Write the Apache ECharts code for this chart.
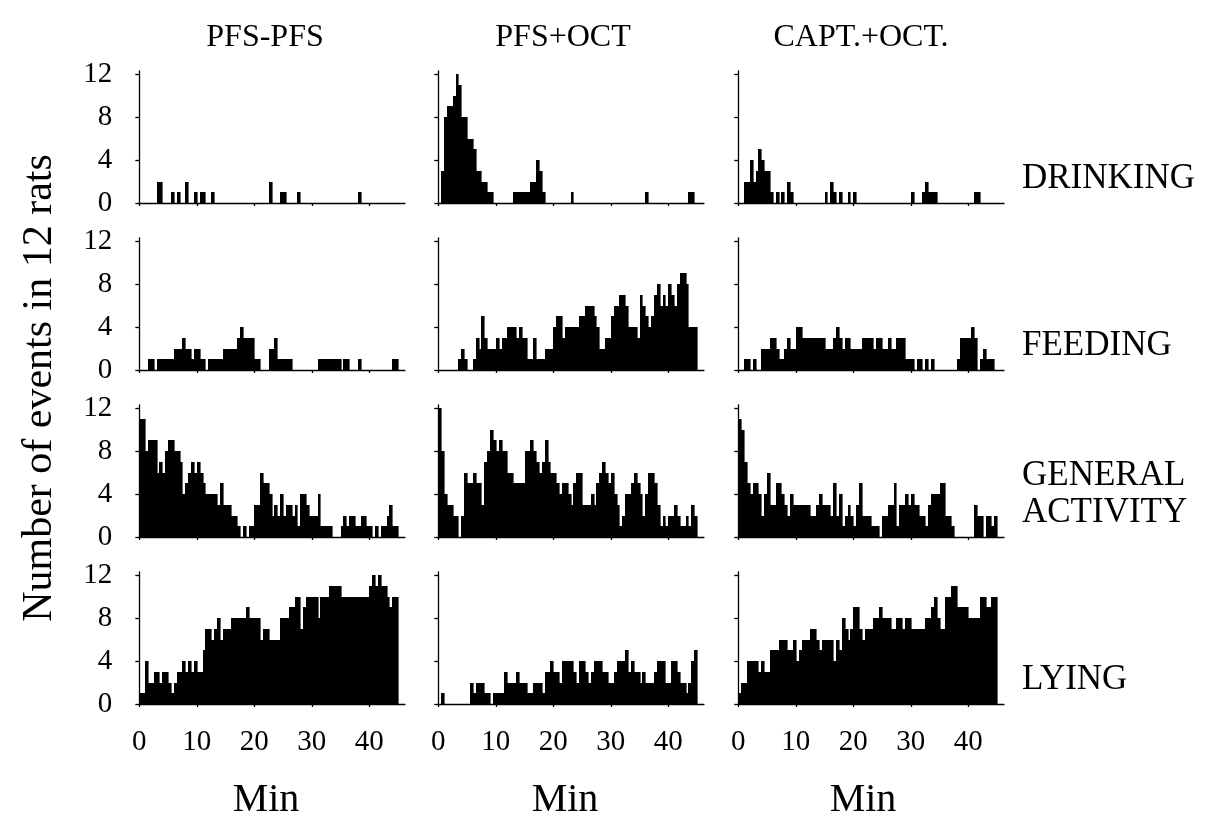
<!DOCTYPE html>
<html><head><meta charset="utf-8">
<script src="https://cdn.jsdelivr.net/npm/echarts/dist/echarts.min.js"></script>
<style>html,body{margin:0;padding:0;background:#fff}#c{width:1230px;height:828px}</style>
</head><body><div id="c"></div><script>
// ---------- DATA ----------
const binMinutes = 0.5;           // each bar = 30 s observation bin, 90 bins over 45 min
const conditions = ['PFS-PFS', 'PFS+OCT', 'CAPT.+OCT.'];
const behaviours = ['DRINKING', 'FEEDING', 'GENERAL\nACTIVITY', 'LYING'];
const xTickValues = [0, 10, 20, 30, 40];
const yTickValues = [0, 4, 8, 12];
const xAxisTitle = 'Min';
const yAxisTitle = 'Number of events in 12 rats';

const drinkingPFS = [0,0,0,0,0,0,2,2,0,0, 0,1,0,1,0,0,2,0,0,1, 0,1,1,0,0,1,0,0,0,0, 0,0,0,0,0,0,0,0,0,0, 0,0,0,0,0,2,0,0,0,1, 1,0,0,0,0,1,0,0,0,0, 0,0,0,0,0,0,0,0,0,0, 0,0,0,0,0,0,1,0,0,0, 0,0,0,0,0,0,0,0,0,0];
const drinkingOCT = [0,3,8,9,9,10,12,11,8,8, 6,6,5,3,3,2,2,1,1,0, 0,0,0,0,0,0,1,1,1,1, 1,1,2,2,4,3,1,0,0,0, 0,0,0,0,0,0,1,0,0,0, 0,0,0,0,0,0,0,0,0,0, 0,0,0,0,0,0,0,0,0,0, 0,0,1,0,0,0,0,0,0,0, 0,0,0,0,0,0,0,1,1,0];
const drinkingCAPT = [0,0,2,2,4,2,3,5,4,3, 3,1,0,1,0,1,0,2,1,0, 0,0,0,0,0,0,0,0,0,0, 1,0,2,1,0,1,0,0,1,0, 1,0,0,0,0,0,0,0,0,0, 0,0,0,0,0,0,0,0,0,0, 1,0,0,0,1,2,1,1,1,0, 0,0,0,0,0,0,0,0,0,0, 0,0,1,1,0,0,0,0,0,0];

const feedingPFS = [0,0,0,1,1,0,1,1,1,1, 1,1,2,2,2,3,2,2,1,2, 2,1,1,0,1,1,1,1,1,2, 2,2,2,2,3,4,3,3,3,3, 1,1,0,0,0,2,2,3,1,1, 1,1,1,0,0,0,0,0,0,0, 0,0,1,1,1,1,1,1,1,1, 0,1,1,0,0,0,1,0,0,0, 0,0,0,0,0,0,0,0,1,1];
const feedingOCT = [0,0,0,0,0,0,0,1,2,1, 0,0,1,3,2,5,3,2,2,2, 3,2,3,3,4,4,4,3,4,3, 3,1,1,3,1,1,1,2,2,2, 4,5,5,3,4,4,4,4,4,5, 5,6,6,6,5,4,2,2,3,3, 5,6,6,7,7,6,4,4,4,3, 7,6,5,4,5,7,8,6,7,6, 8,7,6,8,9,9,8,4,4,4];
const feedingCAPT = [0,0,1,1,0,1,0,0,2,2, 2,3,3,2,1,1,2,3,2,2, 4,4,3,3,3,3,3,3,3,3, 2,2,2,3,4,3,2,3,3,2, 2,2,2,3,3,3,3,2,3,3, 2,2,3,2,2,3,3,3,1,1, 1,0,1,1,0,1,0,1,0,0, 0,0,0,0,0,0,1,3,3,3, 3,4,3,0,1,2,1,1,1,0];

const activityPFS = [11,11,8,9,9,9,6,7,6,8, 9,9,8,8,7,4,5,6,7,6, 7,6,5,4,4,4,4,3,5,3, 3,3,2,2,1,0,1,0,1,1, 3,3,6,5,5,4,2,3,2,4, 2,3,3,2,3,1,4,4,3,2, 2,2,4,1,1,1,1,0,0,0, 1,2,1,2,2,1,1,2,2,1, 1,0,1,0,1,1,2,3,1,1];
const activityOCT = [12,8,4,3,3,2,2,0,2,6, 5,5,6,5,5,3,7,8,10,9, 8,9,8,8,6,6,5,5,5,5, 8,8,9,8,7,6,7,9,7,6, 6,5,4,5,5,4,3,5,6,6, 3,3,3,4,3,5,6,7,6,5, 6,4,3,1,2,4,4,5,6,5, 4,2,4,6,6,5,3,1,2,1, 2,2,3,2,1,1,2,1,3,2];
const activityCAPT = [11,10,7,5,4,5,5,4,2,4, 6,3,3,5,5,4,3,2,4,3, 3,3,3,3,3,2,2,3,4,3, 3,3,2,5,2,4,1,2,3,2, 1,3,5,2,2,2,1,1,1,0, 2,2,3,3,5,1,3,3,4,3, 4,3,3,2,2,1,3,4,4,4, 5,5,2,2,1,0,0,0,0,0, 0,0,3,2,2,0,2,2,1,2];

const lyingPFS = [1,1,4,2,2,3,3,2,3,3, 2,1,2,3,3,4,3,4,3,4, 3,3,5,7,7,6,7,8,6,7, 7,7,8,8,8,8,8,9,8,8, 8,8,6,7,7,6,6,6,6,8, 8,8,9,9,10,10,7,9,10,10, 10,10,8,10,10,10,11,11,11,11, 10,10,10,10,10,10,10,10,10,10, 11,12,11,12,11,11,10,9,10,10];
const lyingOCT = [0,1,0,0,0,0,0,0,0,0, 0,2,1,2,2,2,1,1,0,1, 1,1,1,3,2,2,2,3,2,2, 2,1,1,2,2,2,1,3,3,4, 3,3,2,4,4,4,4,3,2,4, 4,3,2,3,4,4,4,3,3,2, 2,3,4,4,4,5,3,4,3,3, 2,3,2,2,2,3,4,4,4,2, 2,4,4,3,2,2,1,2,4,5];
const lyingCAPT = [1,2,2,4,4,4,4,3,4,3, 3,5,5,5,6,6,6,5,5,6, 4,5,6,6,6,7,7,6,5,6, 6,6,6,4,6,5,8,7,6,7, 9,9,7,6,7,7,7,8,8,9, 8,8,8,7,7,8,8,7,8,8, 7,7,7,7,7,8,8,9,10,8, 7,7,10,10,11,11,9,9,9,9, 8,8,8,8,10,10,9,9,10,10];

const panels = [
  [drinkingPFS, drinkingOCT, drinkingCAPT],
  [feedingPFS, feedingOCT, feedingCAPT],
  [activityPFS, activityOCT, activityCAPT],
  [lyingPFS, lyingOCT, lyingCAPT]
];

// ---------- LAYOUT ----------
const FONT = '"Liberation Serif", "Times New Roman", serif';
const zeroX = [139.3, 438.3, 738.3];   // pixel of x = 0 in each column
const baseY = [203, 370, 537, 704];    // pixel of y = 0 in each row
const pxPerMin = 5.75, pxPerUnit = 10.75;
const xMax = 46.2, yMax = 12.3;

const chart = echarts.init(document.getElementById('c'), null, {renderer: 'canvas'});
const grids = [], xAxes = [], yAxes = [], series = [];
const axisLineStyle = {color: '#000', width: 1.3};

panels.forEach((row, r) => {
  row.forEach((vals, c) => {
    const gi = grids.length;
    grids.push({
      left: zeroX[c], top: baseY[r] - yMax * pxPerUnit,
      width: xMax * pxPerMin, height: yMax * pxPerUnit, containLabel: false
    });
    xAxes.push({
      type: 'value', gridIndex: gi, min: 0, max: xMax,
      axisLine: {show: true, lineStyle: axisLineStyle},
      axisTick: {show: true, length: 3, lineStyle: axisLineStyle, customValues: xTickValues},
      axisLabel: {show: r === 3, customValues: xTickValues, fontFamily: FONT, fontSize: 29, color: '#000', margin: 24},
      splitLine: {show: false}
    });
    yAxes.push({
      type: 'value', gridIndex: gi, min: 0, max: yMax, offset: 9,
      axisLine: {show: true, lineStyle: axisLineStyle},
      axisTick: {show: true, length: 4, lineStyle: axisLineStyle, customValues: yTickValues},
      axisLabel: {show: c === 0, customValues: yTickValues, fontFamily: FONT, fontSize: 29, color: '#000', margin: 18},
      splitLine: {show: false}
    });
    series.push({
      type: 'custom', xAxisIndex: gi, yAxisIndex: gi,
      data: vals.map((v, i) => [i * binMinutes, v]),
      encode: {x: 0, y: 1},
      silent: true,
      renderItem: (params, api) => {
        const x0 = api.value(0), v = api.value(1);
        if (!v) return null;
        const pTop = api.coord([x0, v]);
        const pBot = api.coord([x0 + binMinutes, 0]);
        const left = Math.round(pTop[0]), right = Math.round(pBot[0]);
        const top = Math.round(pTop[1]), bottom = Math.round(pBot[1]);
        return {
          type: 'rect',
          shape: {x: left, y: top, width: right - left + 0.6, height: bottom - top},
          style: {fill: '#000', stroke: null}
        };
      }
    });
  });
});

const graphics = [];
const headerX = [265, 563, 861];
conditions.forEach((t, c) => graphics.push({
  type: 'text', x: headerX[c], y: 38,
  style: {text: t, font: '32px ' + FONT, fill: '#000', textAlign: 'center', textVerticalAlign: 'middle', align: 'center', verticalAlign: 'middle'}
}));
const minX = [266, 565, 863];
minX.forEach(x => graphics.push({
  type: 'text', x: x, y: 800,
  style: {text: xAxisTitle, font: '40px ' + FONT, fill: '#000', textAlign: 'center', textVerticalAlign: 'middle', align: 'center', verticalAlign: 'middle'}
}));
const rowLabelY = [179, 346, 494, 680];
behaviours.forEach((t, r) => graphics.push({
  type: 'text', x: 1022, y: rowLabelY[r],
  style: {text: t, font: '35px ' + FONT, lineHeight: 37, fill: '#000', textAlign: 'left', textVerticalAlign: 'middle', align: 'left', verticalAlign: 'middle'}
}));
graphics.push({
  type: 'text', x: 40, y: 388, rotation: Math.PI / 2,
  style: {text: yAxisTitle, font: '42px ' + FONT, fill: '#000', textAlign: 'center', textVerticalAlign: 'middle', align: 'center', verticalAlign: 'middle'}
});

chart.setOption({
  animation: false,
  backgroundColor: '#fff',
  grid: grids, xAxis: xAxes, yAxis: yAxes, series: series,
  graphic: graphics
});
</script></body></html>
